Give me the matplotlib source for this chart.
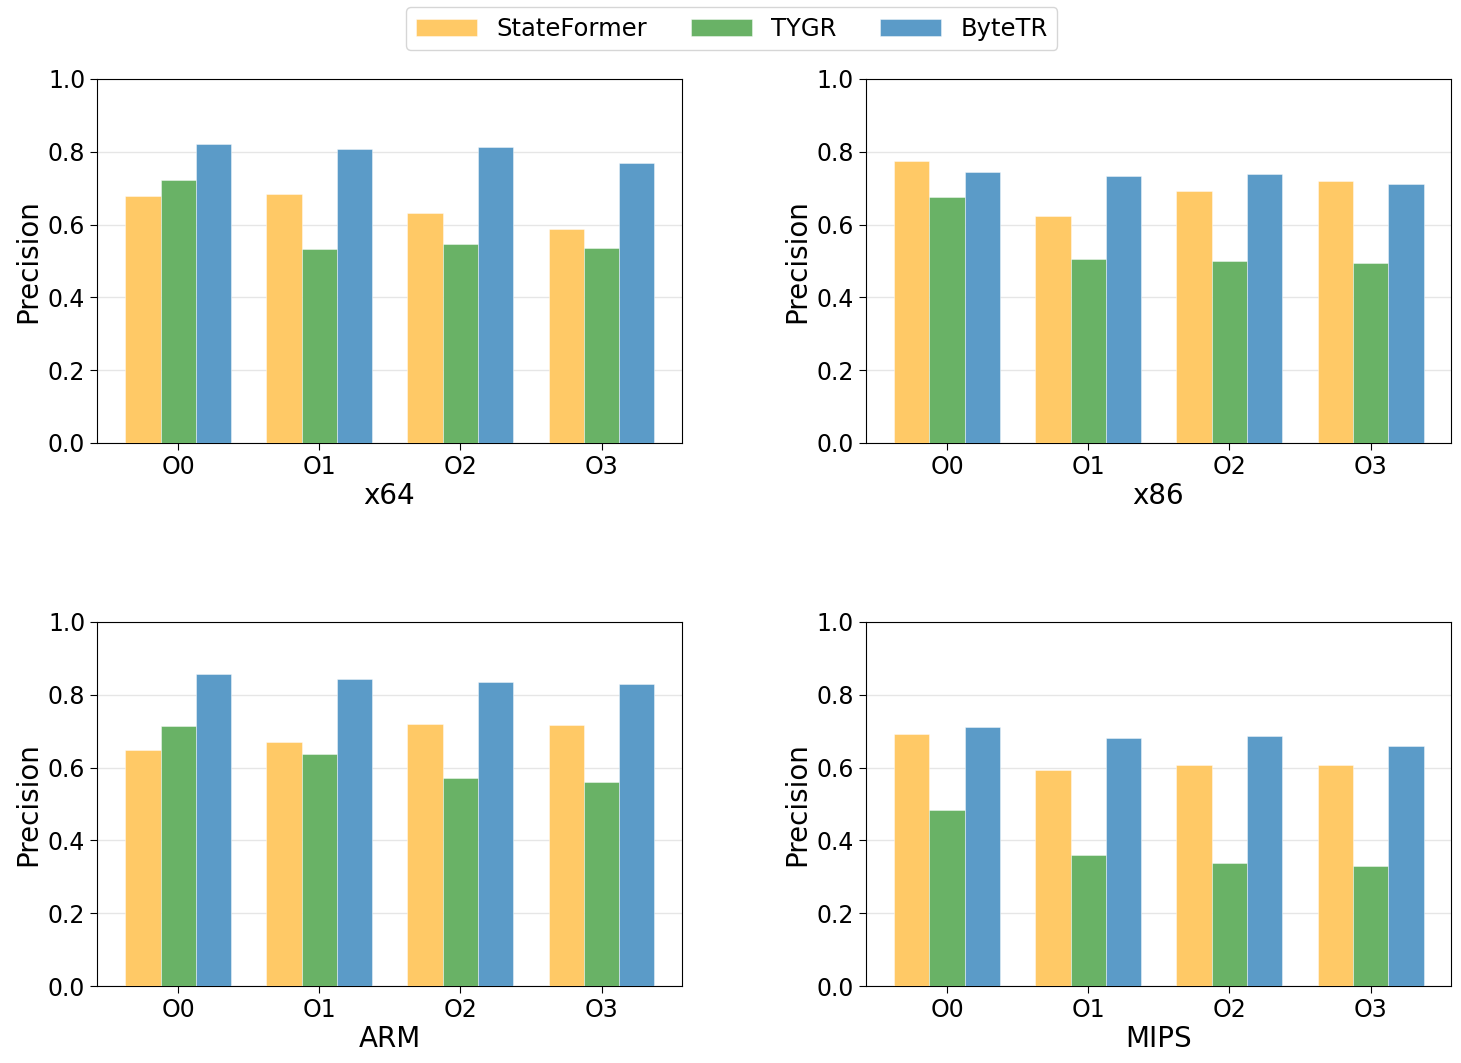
import numpy as np
import matplotlib.pyplot as plt

# Precision per optimization level
opt_levels = ["O0", "O1", "O2", "O3"]
methods = ["StateFormer", "TYGR", "ByteTR"]
colors = ["#FFC966", "#69B266", "#5B9BC8"]

archs = ["x64", "x86", "ARM", "MIPS"]
stateformer = {
    "x64": [0.678, 0.683, 0.633, 0.589],
    "x86": [0.776, 0.624, 0.691, 0.720],
    "ARM": [0.648, 0.669, 0.720, 0.717],
    "MIPS": [0.691, 0.594, 0.607, 0.606],
}
tygr = {
    "x64": [0.722, 0.532, 0.546, 0.536],
    "x86": [0.677, 0.505, 0.499, 0.495],
    "ARM": [0.714, 0.636, 0.571, 0.561],
    "MIPS": [0.484, 0.361, 0.337, 0.330],
}
bytetr = {
    "x64": [0.822, 0.808, 0.813, 0.768],
    "x86": [0.745, 0.734, 0.738, 0.712],
    "ARM": [0.857, 0.842, 0.835, 0.829],
    "MIPS": [0.712, 0.682, 0.687, 0.659],
}

fig = plt.figure(figsize=(14.61, 10.63), dpi=100)
rects = [
    [0.0664, 0.5833, 0.4004, 0.3424],
    [0.5927, 0.5833, 0.4005, 0.3424],
    [0.0664, 0.0724, 0.4004, 0.3425],
    [0.5927, 0.0724, 0.4005, 0.3425],
]

x = np.arange(len(opt_levels))
width = 0.25
handles = []
for arch, rect in zip(archs, rects):
    ax = fig.add_axes(rect)
    series = [stateformer[arch], tygr[arch], bytetr[arch]]
    for i, (vals, c, name) in enumerate(zip(series, colors, methods)):
        b = ax.bar(x + (i - 1) * width, vals, width, color=c,
                   edgecolor=(1, 1, 1, 0.5), linewidth=0.6, label=name, zorder=3)
        if arch == "x64":
            handles.append(b)
    ax.set_ylim(0, 1.0)
    ax.set_xlim(-0.575, 3.57)
    ax.set_xticks(x)
    ax.set_xticklabels(opt_levels)
    ax.tick_params(labelsize=17, length=5)
    ax.set_ylabel("Precision", fontsize=20)
    ax.set_xlabel(arch, fontsize=20, labelpad=2)
    ax.yaxis.grid(True, color="#e6e6e6", linewidth=1, zorder=0)
    ax.set_axisbelow(True)

fig.legend(handles, methods, loc="upper center", bbox_to_anchor=(0.501, 1.005),
           ncol=3, fontsize=17.5, handlelength=2.5, columnspacing=1.8)

plt.savefig("out.png", dpi=100)
